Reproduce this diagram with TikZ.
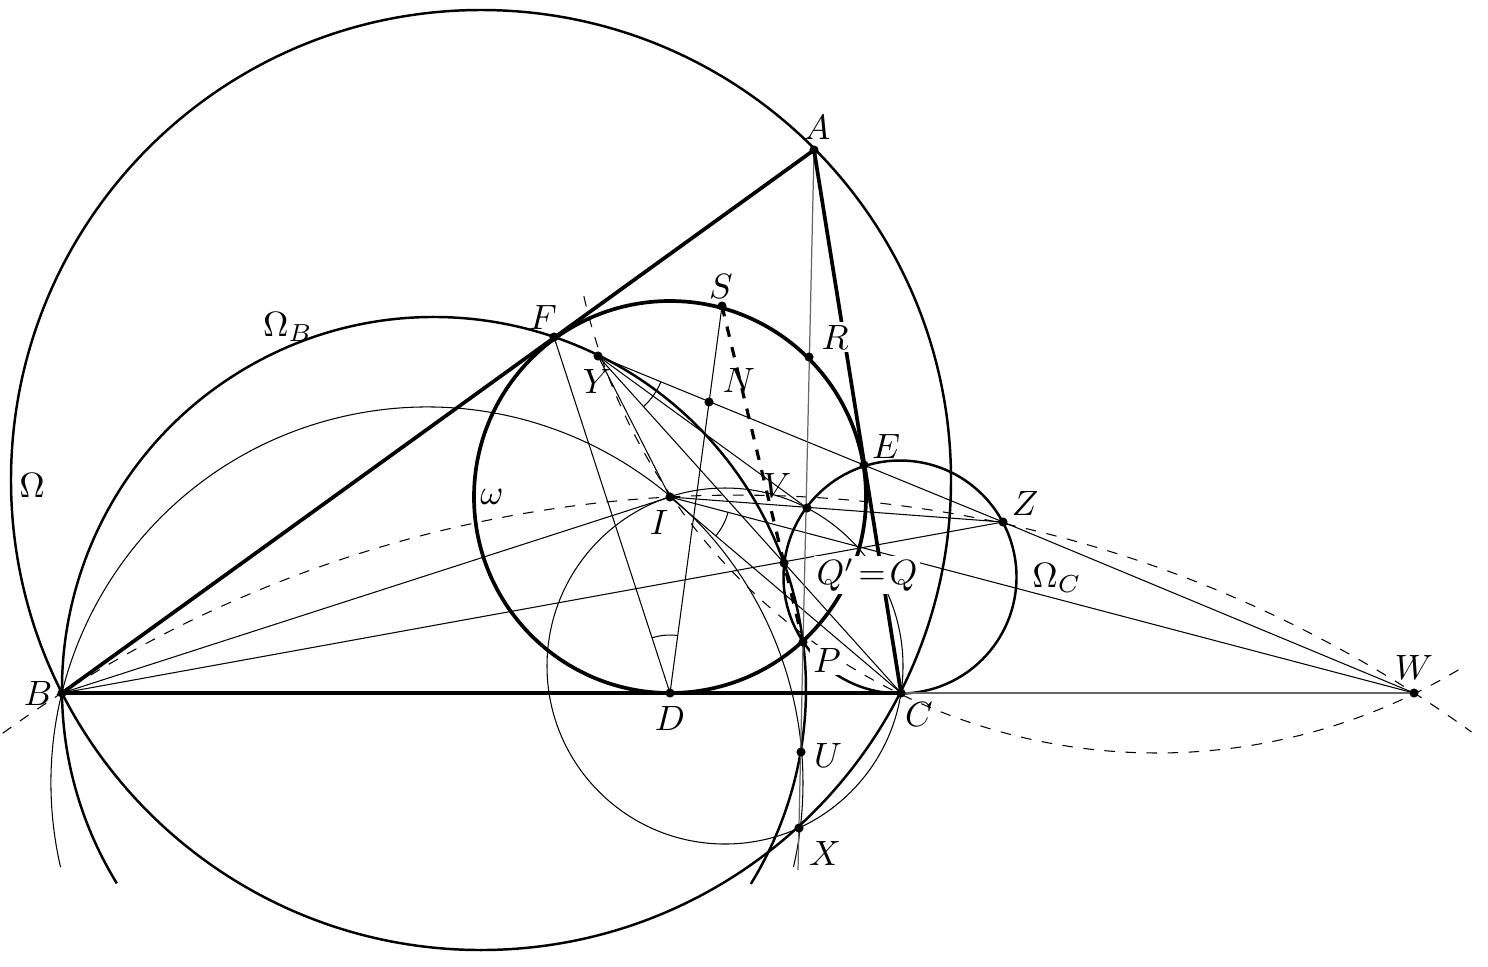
\documentclass[tikz,border=0pt]{standalone}
\usetikzlibrary{calc}
\begin{document}
\begin{tikzpicture}[x=0.01cm, y=0.01cm,
	pt/.style={circle, fill=black, inner sep=0pt, minimum size=2.6pt},
	lbl/.style={inner sep=0.8pt},
	lblw/.style={fill=white, inner sep=0.8pt},
	thickl/.style={line width=1.05pt},
	midl/.style={line width=0.7pt},
	thinl/.style={line width=0.3pt},
	grayl/.style={line width=0.35pt, black!60}]
	\useasboundingbox (0,0) rectangle (1488,-966);
		\coordinate (A) at (814,-150);
		\coordinate (B) at (62,-693);
		\coordinate (C) at (901,-693);
		\coordinate (D) at (670,-693);
		\coordinate (E) at (864,-465);
		\coordinate (F) at (554,-337);
		\coordinate (I) at (670,-497);
		\coordinate (S) at (722,-306);
		\coordinate (R) at (809,-357);
		\coordinate (Y) at (598,-356);
		\coordinate (N) at (709,-402);
		\coordinate (V) at (807,-508);
		\coordinate (Q) at (784,-563);
		\coordinate (P) at (803,-642);
		\coordinate (U) at (801,-752);
		\coordinate (X) at (799,-828);
		\coordinate (Z) at (1003,-522);
		\coordinate (W) at (1414,-693);
		\coordinate (Xend) at (798,-870);
		% centres of the circles
		\coordinate (oO) at (481,-480);
		\coordinate (oB) at (434,-689);
		\coordinate (oC) at (900,-577);
		\coordinate (oBIU) at (427,-783);
		\coordinate (oICX) at (725,-666);
		\coordinate (oBIZ) at (738,-1749);
		\coordinate (oYIC) at (1157,-165);

		% circles
		\draw[midl] (oO) circle[radius=470];
		\draw[thickl] (I) circle[radius=196];
		\draw[midl] ($(oB)+(211.5:372)$) arc[start angle=211.5, end angle=-31.6, radius=372];
		\draw[midl] (oC) circle[radius=116.5];
		\draw[thinl] ($(oBIU)+(192.9:376)$) arc[start angle=192.9, end angle=-12.9, radius=376];
		\draw[thinl] (oICX) circle[radius=178];
		\draw[thinl, dashed] ($(oBIZ)+(125.9:1254)$) arc[start angle=125.9, end angle=54.2, radius=1254];
		\draw[thinl, dashed] ($(oYIC)+(192.9:588)$) arc[start angle=192.9, end angle=301.5, radius=588];

		% lines
		\draw[thinl] (B) -- (I);
		\draw[thinl] (B) -- (Z);
		\draw[thinl] (I) -- (Z);
		\draw[thinl] (I) -- (W);
		\draw[thinl] (Z) -- (W);
		\draw[thinl] (I) -- (C);
		\draw[thinl] (Y) -- (Z);
		\draw[thinl] (Y) -- (I);
		\draw[thinl] (Y) -- (C);
		\draw[thinl] (Y) -- (V);
		\draw[thinl] (S) -- (D);
		\draw[thinl] (F) -- (D);
		\draw[grayl] (C) -- (W);
		\draw[grayl] (A) -- (Xend);
		\draw[thickl] (A) -- (B) -- (C) -- cycle;
		\draw[line width=0.9pt, dashed] (S) -- (P);

		% angle marks
		\draw[thinl] ($(D)+(82.3:58)$) arc[start angle=82.3, end angle=108, radius=58];
		\draw[thinl] ($(Y)+(-22.3:68)$) arc[start angle=-22.3, end angle=-48, radius=68];
		\draw[thinl] ($(I)+(-14.8:60)$) arc[start angle=-14.8, end angle=-40.3, radius=60];

		% points
		\foreach \p in {A,B,C,D,E,F,I,S,R,Y,N,V,Q,P,U,X,Z,W}
			\node[pt] (d\p) at (\p) {};

		% labels
		\node[lbl] (lA) at (817,-127) {$A$};
		\node[lbl] (lB) at (38,-693) {$B$};
		\node[lbl] (lC) at (919,-714) {$C$};
		\node[lbl] (lD) at (670,-718) {$D$};
		\node[lbl] (lE) at (886,-446) {$E$};
		\node[lbl] (lF) at (543,-317) {$F$};
		\node[lbl] (lI) at (659,-522) {$I$};
		\node[lbl] (lS) at (721,-286) {$S$};
		\node[lblw] (lR) at (835,-337) {$R$};
		\node[lbl] (lY) at (597,-381) {$Y$};
		\node[lbl] (lN) at (739,-380) {$N$};
		\node[lbl] (lV) at (777,-485) {$V$};
		\node[lblw] (lQ) at (867,-575) {$Q'\!=\!Q$};
		\node[lblw] (lP) at (827,-660) {$P$};
		\node[lbl] (lU) at (828,-755) {$U$};
		\node[lbl] (lX) at (825,-853) {$X$};
		\node[lbl] (lZ) at (1025,-503) {$Z$};
		\node[lbl] (lW) at (1414,-667) {$W$};
		\node (lOmega) at (32,-485) {$\Omega$};
		\node (lOmegaB) at (288,-327) {$\Omega_B$};
		\node (lOmegaC) at (1057,-578) {$\Omega_C$};
		\node (lomega) at (492,-497) {$\omega$};
\end{tikzpicture}
\end{document}
